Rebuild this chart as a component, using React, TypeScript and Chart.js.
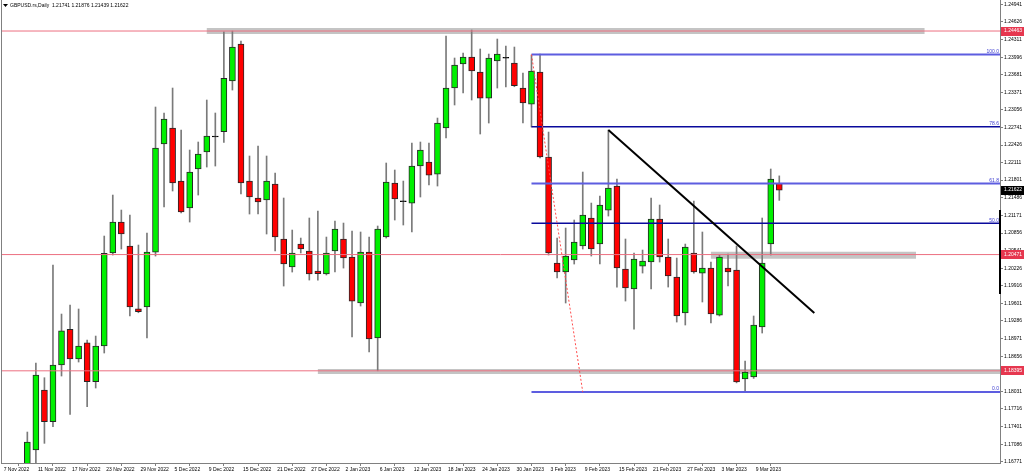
import React, { useEffect, useRef } from 'react';
import { Chart, registerables } from 'chart.js';

Chart.register(...registerables);

// ---------- data ----------
const xTickLabels = [
  '7 Nov 2022', '11 Nov 2022', '17 Nov 2022', '23 Nov 2022', '29 Nov 2022', '5 Dec 2022',
  '9 Dec 2022', '15 Dec 2022', '21 Dec 2022', '27 Dec 2022', '2 Jan 2023', '6 Jan 2023',
  '12 Jan 2023', '18 Jan 2023', '24 Jan 2023', '30 Jan 2023', '3 Feb 2023', '9 Feb 2023',
  '15 Feb 2023', '21 Feb 2023', '27 Feb 2023', '3 Mar 2023', '9 Mar 2023',
];

const yTickLabels = [
  '1.24941', '1.24626', '1.24311', '1.23996', '1.23681', '1.23371', '1.23056', '1.22741',
  '1.22426', '1.22111', '1.21801', '1.21486', '1.21171', '1.20856', '1.20541', '1.20226',
  '1.19916', '1.19601', '1.19286', '1.18971', '1.18656', '1.18031', '1.17716', '1.17401',
  '1.17086', '1.16771',
];

const opens = [
  1.13860, 1.15100, 1.15460, 1.13560, 1.16981,
  1.18052, 1.17486, 1.18499, 1.19136, 1.18606,
  1.18897, 1.18200, 1.18838, 1.20499, 1.21052,
  1.20624, 1.19504, 1.19534, 1.20516, 1.22445,
  1.22731, 1.21784, 1.21302, 1.21999, 1.22302,
  1.22570, 1.22665, 1.23570, 1.24231, 1.21784,
  1.21481, 1.21445, 1.21731, 1.20749, 1.20249,
  1.20659, 1.20534, 1.20177, 1.20124, 1.20534,
  1.20749, 1.20427, 1.19606, 1.20516, 1.18981,
  1.20784, 1.21749, 1.21414, 1.21391, 1.22052,
  1.22124, 1.21909, 1.22731, 1.23445, 1.23874,
  1.23999, 1.23731, 1.23266, 1.23927, 1.23976,
  1.23892, 1.23445, 1.23159, 1.23731, 1.22213,
  1.20320, 1.20159, 1.20374, 1.20624, 1.21124,
  1.20659, 1.21266, 1.21695, 1.20213, 1.19856,
  1.20266, 1.20338, 1.21106, 1.20427, 1.20070,
  1.19427, 1.20499, 1.20141, 1.20231, 1.19391,
  1.20231, 1.20195, 1.18249, 1.18284, 1.19177,
  1.20659, 1.21741,
];

const highs = [
  1.15470, 1.15600, 1.15620, 1.17302, 1.18534,
  1.18272, 1.20284, 1.19409, 1.19570, 1.19499,
  1.18945, 1.19016, 1.20802, 1.21534, 1.21266,
  1.21177, 1.20641, 1.20856, 1.23106, 1.22999,
  1.23445, 1.22695, 1.22338, 1.22481, 1.23231,
  1.22999, 1.24450, 1.24463, 1.24284, 1.22231,
  1.22409, 1.22231, 1.21927, 1.21481, 1.20909,
  1.20766, 1.21124, 1.21249, 1.20784, 1.21070,
  1.21034, 1.20891, 1.20874, 1.20784, 1.20981,
  1.22106, 1.21981, 1.21784, 1.22463, 1.22481,
  1.22463, 1.22909, 1.24374, 1.23981, 1.24070,
  1.24481, 1.24142, 1.24052, 1.24320, 1.24195,
  1.24177, 1.23713, 1.24034, 1.24052, 1.22659,
  1.20766, 1.20945, 1.21088, 1.21945, 1.21391,
  1.21516, 1.22695, 1.21820, 1.20749, 1.20499,
  1.20552, 1.21481, 1.21356, 1.20749, 1.20409,
  1.20659, 1.21427, 1.20874, 1.20338, 1.20463,
  1.20481, 1.20624, 1.18570, 1.19374, 1.21124,
  1.21999, 1.21876,
];

const lows = [
  1.13770, 1.14200, 1.13350, 1.13350, 1.16650,
  1.17100, 1.17397, 1.18302, 1.17618, 1.18552,
  1.17754, 1.18088, 1.18713, 1.20463, 1.20570,
  1.19374, 1.19432, 1.18981, 1.20445, 1.21320,
  1.21606, 1.21213, 1.21052, 1.21534, 1.22034,
  1.22052, 1.22475, 1.23409, 1.21552, 1.21195,
  1.21195, 1.20838, 1.20534, 1.19909, 1.20159,
  1.20499, 1.20016, 1.20016, 1.20106, 1.20159,
  1.20230, 1.18999, 1.19552, 1.18731, 1.18395,
  1.20766, 1.21088, 1.20999, 1.20874, 1.21499,
  1.21713, 1.21695, 1.22552, 1.23142, 1.23356,
  1.23231, 1.22624, 1.22820, 1.23445, 1.23463,
  1.23468, 1.22820, 1.22749, 1.22195, 1.20463,
  1.20052, 1.19606, 1.20302, 1.20570, 1.20445,
  1.20302, 1.21159, 1.19891, 1.19641, 1.19141,
  1.20141, 1.19856, 1.20338, 1.19891, 1.19266,
  1.19213, 1.20141, 1.19624, 1.19249, 1.19374,
  1.19909, 1.18180, 1.18016, 1.18260, 1.19070,
  1.20463, 1.21439,
];

const closes = [
  1.15100, 1.15460, 1.13560, 1.17124, 1.18320,
  1.17486, 1.18499, 1.19111, 1.18606, 1.18838,
  1.18200, 1.18838, 1.20493, 1.21052, 1.20838,
  1.19534, 1.19450, 1.20516, 1.22374, 1.22892,
  1.21749, 1.21231, 1.21945, 1.22266, 1.22588,
  1.22570, 1.23618, 1.24177, 1.21749, 1.21499,
  1.21409, 1.21784, 1.20784, 1.20302, 1.20499,
  1.20570, 1.20124, 1.20130, 1.20499, 1.20927,
  1.20409, 1.19641, 1.20516, 1.18963, 1.20927,
  1.21766, 1.21463, 1.21414, 1.22052, 1.22338,
  1.21891, 1.22820, 1.23445, 1.23856, 1.23999,
  1.23749, 1.23266, 1.23981, 1.24052, 1.23976,
  1.23486, 1.23177, 1.23749, 1.22213, 1.20499,
  1.20159, 1.20445, 1.20695, 1.21177, 1.20570,
  1.21356, 1.21659, 1.20231, 1.19874, 1.20391,
  1.20356, 1.21106, 1.20427, 1.20088, 1.19374,
  1.20606, 1.20159, 1.20231, 1.19409, 1.20427,
  1.20159, 1.18195, 1.18374, 1.19213, 1.20320,
  1.21820, 1.21622,
];

const horizontalLevels = [1.24463, 1.20471, 1.18395];
const bandLevels = [1.24463, 1.20460, 1.18382];
const bandFromBar = [24, 83, 37];
const bandToBar = [108, 107, 130];

const fibHighPrice = 1.24043;
const fibLowPrice = 1.18016;
const fibFromBar = 62;
const fibToBar = 68;
const fibLevels = [0, 50, 61.8, 78.6, 100];

const trendFromBar = 71;
const trendFromPrice = 1.22695;
const trendToBar = 95.1;
const trendToPrice = 1.19427;

const lastClose = 1.21622;
const axisMarkerTop = 1.21267;
const axisMarkerBottom = 1.19767;

const titleText = 'GBPUSD.rs,Daily  1.21741 1.21876 1.21439 1.21622';

// ---------- view ----------
const X_MIN = -0.082;
const X_MAX = 116.83;
const Y_MIN = 1.16749;
const Y_MAX = 1.25017;
const FONT = "'Liberation Sans', Arial, sans-serif";
const FS = 5;

const seg = (x1: number, y1: number, x2: number, y2: number) => [
  { x: x1, y: y1 },
  { x: x2, y: y2 },
];

export default function App() {
  const ref = useRef<HTMLCanvasElement | null>(null);

  useEffect(() => {
    const canvas = ref.current;
    if (!canvas) return;

    const idx = opens.map((_, i) => i);
    const bodyFill = idx.map((i) =>
      closes[i] > opens[i] ? '#00f000' : closes[i] < opens[i] ? '#ff0000' : '#000000'
    );
    const bodyBorder = idx.map((i) => (closes[i] === opens[i] ? '#000000' : '#262626'));

    const lineDs = (data: any, color: string, width: number, order: number, extra: any = {}) => ({
      type: 'line' as const,
      data,
      borderColor: color,
      borderWidth: width,
      pointRadius: 0,
      tension: 0,
      fill: false,
      order,
      ...extra,
    });

    const datasets: any[] = [];
    const bandWidths = [6, 7, 5];
    bandLevels.forEach((lv, k) => {
      datasets.push(lineDs(seg(bandFromBar[k], lv, bandToBar[k], lv), '#c4c4c4', bandWidths[k], 30));
    });
    datasets.push({
      type: 'bar',
      data: idx.map((i) => ({ x: i, y: [lows[i], highs[i]] })),
      backgroundColor: '#7a7a7a',
      borderWidth: 0,
      barThickness: 1,
      grouped: false,
      order: 20,
    });
    datasets.push({
      type: 'bar',
      data: idx.map((i) => ({ x: i, y: [opens[i], closes[i]] })),
      backgroundColor: bodyFill,
      borderColor: bodyBorder,
      borderWidth: 1,
      borderSkipped: false,
      barThickness: 6,
      minBarLength: 1,
      grouped: false,
      order: 19,
    });
    horizontalLevels.forEach((lv) => {
      datasets.push(lineDs(seg(X_MIN, lv, X_MAX, lv), '#ec6f80', 1, 10));
    });
    const fibRange = fibHighPrice - fibLowPrice;
    fibLevels.forEach((lv) => {
      const p = fibLowPrice + (fibRange * lv) / 100;
      const strong = lv === 50 || lv === 78.6;
      datasets.push(
        lineDs(seg(fibFromBar, p, X_MAX, p), strong ? '#0a0a9c' : '#5d5de0', strong ? 1.5 : 2, 9)
      );
    });
    datasets.push(
      lineDs(seg(fibFromBar, fibHighPrice, fibToBar, fibLowPrice), '#ff4a4a', 1, 8, {
        borderDash: [2, 2],
      })
    );
    datasets.push(lineDs(seg(trendFromBar, trendFromPrice, trendToBar, trendToPrice), '#000000', 2, 7));
    datasets.push(
      lineDs(seg(X_MAX, axisMarkerTop, X_MAX, axisMarkerBottom), '#000000', 2, 6, { clip: false })
    );

    const overlay = {
      id: 'mtOverlay',
      afterDraw(chart: any) {
        const { ctx, chartArea, scales } = chart;
        const ys = scales.y;
        ctx.save();
        // left frame
        ctx.strokeStyle = '#808080';
        ctx.lineWidth = 1;
        ctx.beginPath();
        ctx.moveTo(chartArea.left + 0.5, chartArea.top);
        ctx.lineTo(chartArea.left + 0.5, chartArea.bottom);
        ctx.stroke();

        // title
        ctx.fillStyle = '#000';
        ctx.beginPath();
        ctx.moveTo(3, 4);
        ctx.lineTo(8, 4);
        ctx.lineTo(5.5, 7);
        ctx.closePath();
        ctx.fill();
        ctx.font = `${FS}px ${FONT}`;
        ctx.textBaseline = 'middle';
        ctx.textAlign = 'left';
        ctx.fillText(titleText, 10, 5.5);

        // fib labels
        ctx.fillStyle = '#3c3cd0';
        ctx.textAlign = 'right';
        ctx.textBaseline = 'bottom';
        fibLevels.forEach((lv) => {
          const p = fibLowPrice + (fibRange * lv) / 100;
          const y = ys.getPixelForValue(p);
          ctx.fillText(lv.toFixed(1), chartArea.right - 1, y - 0.5);
        });

        // price tags on axis
        const tag = (price: number, bg: string) => {
          const y = ys.getPixelForValue(price);
          ctx.fillStyle = bg;
          ctx.fillRect(chartArea.right + 1, Math.round(y - 4.5), 23, 9);
          ctx.fillStyle = '#ffffff';
          ctx.textAlign = 'left';
          ctx.textBaseline = 'middle';
          ctx.fillText(price.toFixed(5), chartArea.right + 4, y);
        };
        horizontalLevels.forEach((lv) => tag(lv, '#e6374f'));
        tag(lastClose, '#000000');
        ctx.restore();
      },
    };

    const chart = new Chart(canvas, {
      type: 'line',
      data: { datasets },
      options: {
        animation: false,
        responsive: false,
        devicePixelRatio: 1,
        layout: { padding: { left: 1, top: 0, right: 0, bottom: 0 } },
        plugins: { legend: { display: false }, tooltip: { enabled: false } },
        scales: {
          x: {
            type: 'linear',
            min: X_MIN,
            max: X_MAX,
            offset: false,
            afterBuildTicks: (s: any) => {
              s.ticks = xTickLabels.map((_, k) => ({ value: k * 4 }));
            },
            afterFit: (s: any) => {
              s.height = 12;
              s.paddingLeft = 0;
              s.paddingRight = 0;
            },
            grid: { drawOnChartArea: false, tickLength: 3, color: '#808080' },
            border: { color: '#808080' },
            ticks: {
              autoSkip: false,
              maxRotation: 0,
              align: 'start',
              labelOffset: 2,
              padding: 1,
              color: '#000',
              font: { size: FS, family: FONT },
              callback: (v: any) => xTickLabels[Math.round(Number(v) / 4)] ?? '',
            },
          },
          y: {
            type: 'linear',
            position: 'right',
            min: Y_MIN,
            max: Y_MAX,
            afterBuildTicks: (s: any) => {
              s.ticks = yTickLabels.map((t) => ({ value: parseFloat(t) }));
            },
            afterFit: (s: any) => {
              s.width = 24;
              s.paddingTop = 0;
              s.paddingBottom = 0;
            },
            grid: { drawOnChartArea: false, tickLength: 3, color: '#808080' },
            border: { color: '#808080' },
            ticks: {
              autoSkip: false,
              padding: 1,
              color: '#000',
              font: { size: FS, family: FONT },
              callback: (v: any) => Number(v).toFixed(5),
            },
          },
        },
      },
      plugins: [overlay],
    } as any);

    return () => chart.destroy();
  }, []);

  return (
    <div style={{ position: 'absolute', left: 0, top: 0, width: 1024, height: 475, background: '#fff' }}>
      <canvas ref={ref} width={1024} height={475} style={{ display: 'block', width: 1024, height: 475 }} />
    </div>
  );
}
